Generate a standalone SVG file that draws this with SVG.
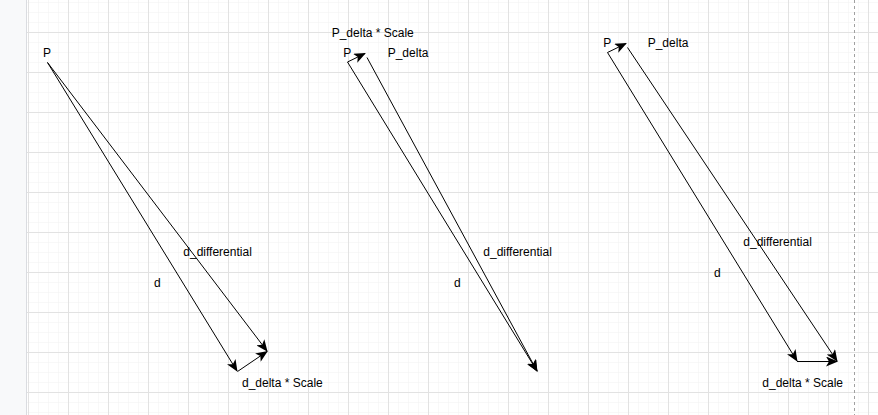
<svg xmlns="http://www.w3.org/2000/svg" width="878" height="415" viewBox="0 0 878 415">
<defs>
<pattern id="minor" patternUnits="userSpaceOnUse" x="28" y="32" width="10" height="10">
<path d="M0,0 H10 M0,0 V10" stroke="#f1f1f1" stroke-width="1" fill="none"/>
</pattern>
<pattern id="major" patternUnits="userSpaceOnUse" x="28" y="32" width="40" height="40">
<path d="M0,0.5 H40 M0.5,0 V40" stroke="#e2e2e2" stroke-width="1" fill="none"/>
</pattern>
<marker id="arr" markerUnits="userSpaceOnUse" viewBox="0 0 12 10" refX="11" refY="5" markerWidth="12" markerHeight="10" orient="auto">
<path d="M0,0 L12,5 L0,10 L3,5 Z" fill="#000"/>
</marker>
</defs>
<style>
.lbl{font-family:"Liberation Sans",Arial,sans-serif;font-size:12px;fill:#000}
.edge{stroke:#000;stroke-width:1;fill:none;marker-end:url(#arr)}
</style>
<rect x="0" y="0" width="878" height="415" fill="#fff"/>
<rect x="27" y="0" width="851" height="415" fill="url(#minor)"/>
<rect x="27" y="0" width="851" height="415" fill="url(#major)"/>
<rect x="0" y="0" width="26" height="415" fill="#f8f9fa"/>
<line x1="26.5" y1="0" x2="26.5" y2="415" stroke="#dadce0"/>
<line x1="854.5" y1="0" x2="854.5" y2="415" stroke="#a0a0a0" stroke-dasharray="3,3"/>

<g id="connectors">
<path class="edge" d="M47.5,62.5 L237,371"/>
<path class="edge" d="M47.5,62.5 L267,351"/>
<path class="edge" d="M237.5,371.5 L267,351.5"/>
<path class="edge" d="M347.5,62 L365,53.5"/>
<path class="edge" d="M347.5,62 L537,371"/>
<path class="edge" d="M367,57.5 L537,371"/>
<path class="edge" d="M607.5,52.5 L626,43.5"/>
<path class="edge" d="M607.5,52.5 L797,361"/>
<path class="edge" d="M627.5,47.5 L837,361"/>
<path class="edge" d="M797,361.5 L837,361.5"/>
</g>

<g id="diagram1">
<text class="lbl" x="43" y="56.7">P</text>
<text class="lbl" x="183.3" y="255.7">d_differential</text>
<text class="lbl" x="154" y="286.7">d</text>
<text class="lbl" x="242" y="386.7">d_delta * Scale</text>
</g>
<g id="diagram2">
<text class="lbl" x="331.7" y="36.7">P_delta * Scale</text>
<text class="lbl" x="343.3" y="56.7">P</text>
<text class="lbl" x="387.7" y="56.7">P_delta</text>
<text class="lbl" x="483.3" y="255.7">d_differential</text>
<text class="lbl" x="454" y="286.7">d</text>
</g>
<g id="diagram3">
<text class="lbl" x="603.3" y="46.7">P</text>
<text class="lbl" x="647.7" y="46.7">P_delta</text>
<text class="lbl" x="743.3" y="245.7">d_differential</text>
<text class="lbl" x="714" y="276.7">d</text>
<text class="lbl" x="762.3" y="386.7">d_delta * Scale</text>
</g>
</svg>
